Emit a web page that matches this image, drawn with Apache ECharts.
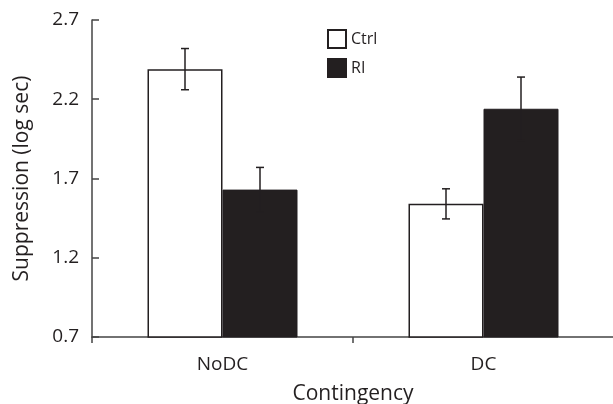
<!DOCTYPE html>
<html>
<head>
<meta charset="utf-8">
<script src="https://cdn.jsdelivr.net/npm/echarts@6/dist/echarts.min.js"></script>
<style>
  html, body { margin: 0; padding: 0; background: #fff; }
  #chart { width: 613px; height: 404px; }
</style>
</head>
<body>
<div id="chart"></div>
<script>
  // data
  var categories = ['NoDC', 'DC'];
  var ctrlMean = [2.39, 1.54];
  var ctrlErr = [0.13, 0.095];
  var riMean = [1.63, 2.14];
  var riErr = [0.14, 0.2];

  var ink = '#231f20';
  var barW = 75;

  function errData(mean, err) {
    return mean.map(function (m, i) {
      return [i, m - err[i], m + err[i]];
    });
  }

  // draws a whisker with caps, shifted left/right to sit on its bar
  function errorBar(shift) {
    return function (params, api) {
      var top = api.coord([api.value(0), api.value(2)]);
      var bot = api.coord([api.value(0), api.value(1)]);
      var x = top[0] + shift;
      var half = 4;
      var style = { stroke: ink, lineWidth: 1.5, fill: null };
      return {
        type: 'group',
        children: [
          { type: 'line', shape: { x1: x, y1: top[1], x2: x, y2: bot[1] }, style: style },
          { type: 'line', shape: { x1: x - half, y1: top[1], x2: x + half, y2: top[1] }, style: style },
          { type: 'line', shape: { x1: x - half, y1: bot[1], x2: x + half, y2: bot[1] }, style: style }
        ]
      };
    };
  }

  var chart = echarts.init(document.getElementById('chart'));
  chart.setOption({
    animation: false,
    textStyle: { fontFamily: 'Open Sans', color: ink },
    grid: { left: 92, top: 20, right: -1, bottom: 67, containLabel: false, outerBoundsMode: 'none' },
    legend: {
      orient: 'vertical',
      left: 327,
      top: 29,
      padding: 0,
      itemWidth: 18,
      itemHeight: 18,
      itemGap: 9,
      icon: 'rect',
      textStyle: { fontSize: 16, color: ink, fontFamily: 'Open Sans' },
      data: ['Ctrl', 'RI']
    },
    xAxis: {
      type: 'category',
      data: categories,
      name: 'Contingency',
      nameLocation: 'middle',
      nameGap: 47,
      nameTextStyle: { fontSize: 21, color: ink },
      axisLine: { lineStyle: { color: '#444', width: 1.5 } },
      axisTick: { show: true, length: 6, lineStyle: { color: '#444', width: 1.5 } },
      axisLabel: { fontSize: 19, color: ink, margin: 18 }
    },
    yAxis: {
      type: 'value',
      min: 0.7,
      max: 2.7,
      interval: 0.5,
      name: 'Suppression (log sec)',
      nameLocation: 'middle',
      nameRotate: 90,
      nameGap: 59,
      nameTextStyle: { fontSize: 21, color: ink },
      splitLine: { show: false },
      axisLine: { show: true, lineStyle: { color: '#444', width: 1.5 } },
      axisTick: { show: true, inside: true, length: 7, lineStyle: { color: '#444', width: 1.5 } },
      axisLabel: {
        fontSize: 19, color: ink, margin: 13,
        formatter: function (v) { return v.toFixed(1); }
      }
    },
    series: [
      {
        name: 'Ctrl',
        type: 'bar',
        data: ctrlMean,
        barWidth: barW,
        barGap: '0%',
        itemStyle: { color: '#fff', borderColor: ink, borderWidth: 1.5 }
      },
      {
        name: 'RI',
        type: 'bar',
        data: riMean,
        barWidth: barW,
        barGap: '0%',
        itemStyle: { color: ink, borderColor: ink, borderWidth: 1 }
      },
      {
        type: 'custom',
        renderItem: errorBar(-barW / 2),
        data: errData(ctrlMean, ctrlErr),
        z: 5
      },
      {
        type: 'custom',
        renderItem: errorBar(barW / 2),
        data: errData(riMean, riErr),
        z: 5
      }
    ]
  });
</script>
</body>
</html>
